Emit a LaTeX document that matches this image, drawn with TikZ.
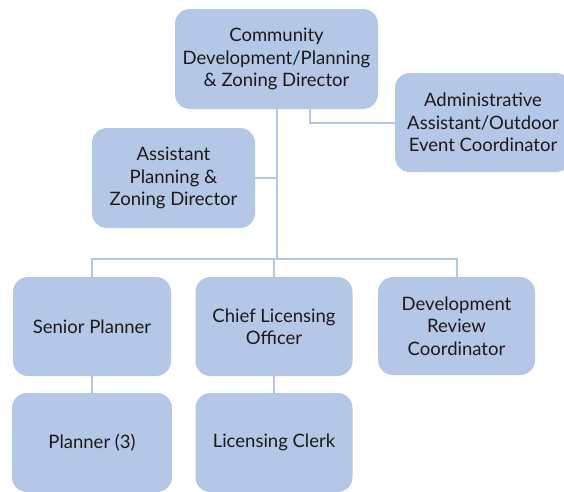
\documentclass[tikz,border=0pt]{standalone}
\usepackage{fontspec}
\setmainfont{Lato}
\definecolor{boxblue}{HTML}{B4C7E7}
\definecolor{txt}{HTML}{1A1A1A}
\begin{document}
\begin{tikzpicture}[x=1pt,y=-1pt,
  orgbox/.style={draw=none,fill=boxblue,rounded corners=15pt,align=center,
    text=txt,font=\fontsize{18.5}{22.5}\selectfont,inner sep=0pt},
  link/.style={draw=boxblue,line width=2pt}]
\clip (0,0) rectangle (564,491);
\fill[white] (0,0) rectangle (564,491);
\node[orgbox,minimum width=203pt,minimum height=100pt] (dir) at (276.5,59) {Community\\Development/Planning\\\& Zoning Director};
\node[orgbox,minimum width=176pt,minimum height=99pt] (admin) at (483,122.5) {Administrative\\Assistant/Outdoor\\Event Coordinator};
\node[orgbox,minimum width=163pt,minimum height=100pt] (asst) at (173.5,178) {Assistant\\Planning \&\\Zoning Director};
\node[orgbox,minimum width=158pt,minimum height=99pt] (senior) at (92,326.5) {Senior Planner};
\node[orgbox,minimum width=157pt,minimum height=99pt] (chief) at (274,326.5) {Chief Licensing\\Officer};
\node[orgbox,minimum width=157pt,minimum height=98pt] (dev) at (456.5,326) {Development\\Review\\Coordinator};
\node[orgbox,minimum width=160pt,minimum height=99pt] (planner) at (92,442.5) {Planner (3)};
\node[orgbox,minimum width=157pt,minimum height=99pt] (clerk) at (274,442.5) {Licensing Clerk};
\coordinate (bus) at (0,259);
\coordinate (adm) at (310,0);
\draw[link] (dir.south) -- (dir.south |- bus);
\draw[link] (adm |- dir.south) |- (admin.west);
\draw[link] (asst.east) -- (asst.east -| dir.south);
\draw[link] (senior.north) -- (senior.north |- bus) -- (dev.north |- bus) -- (dev.north);
\draw[link] (chief.north) -- (chief.north |- bus);
\draw[link] (senior.south) -- (planner.north);
\draw[link] (chief.south) -- (clerk.north);
\end{tikzpicture}
\end{document}
